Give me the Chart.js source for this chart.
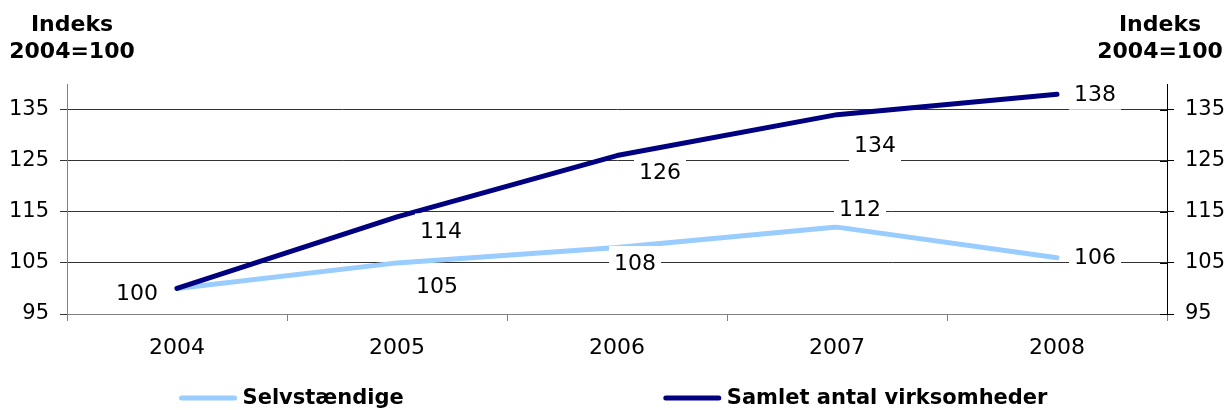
<!DOCTYPE html>
<html lang="da">
<head>
    <meta charset="UTF-8">
    <title>Indeks 2004=100</title>
    <script src="https://cdn.jsdelivr.net/npm/chart.js"></script>
    <style>
        html, body { margin: 0; padding: 0; background: #fff; }
        #wrap { position: relative; width: 1227px; height: 410px; }
    </style>
</head>
<body>
    <div id="wrap">
        <canvas id="chart"></canvas>
    </div>

    <script>
        // data
        const years = ['2004', '2005', '2006', '2007', '2008'];
        const selvstaendige = [100, 105, 108, 112, 106];
        const samlet = [100, 114, 126, 134, 138];
        const yTicks = [95, 105, 115, 125, 135];
        const axisTitle = ['Indeks', '2004=100'];

        const FONT = '"DejaVu Sans", Verdana, sans-serif';

        // where each value label sits relative to its point (null = hidden)
        const labelOffsets = [
            [null, [40, 22], [18, 15], [23, -19], [38, -1]],
            [[-40, 4], [44, 13], [43, 16], [38, 30], [38, -1]]
        ];

        // value labels with white boxes, drawn on top of the lines
        const valueLabels = {
            id: 'valueLabels',
            afterDatasetsDraw(chart) {
                const ctx = chart.ctx;
                ctx.save();
                ctx.font = '22px ' + FONT;
                ctx.textAlign = 'center';
                ctx.textBaseline = 'middle';
                chart.data.datasets.forEach((ds, di) => {
                    const meta = chart.getDatasetMeta(di);
                    meta.data.forEach((pt, i) => {
                        const off = labelOffsets[di][i];
                        if (!off) return;
                        const txt = String(ds.data[i]);
                        const cx = pt.x + off[0];
                        const cy = pt.y + off[1];
                        const w = ctx.measureText(txt).width + 10;
                        const h = 33;
                        ctx.fillStyle = '#fff';
                        ctx.fillRect(cx - w / 2, cy - h / 2, w, h);
                        ctx.fillStyle = '#000';
                        ctx.fillText(txt, cx, cy + 2);
                    });
                });
                ctx.restore();
            }
        };

        // axis titles top left and right
        const axisTitles = {
            id: 'axisTitles',
            afterDraw(chart) {
                const ctx = chart.ctx;
                ctx.save();
                ctx.font = 'bold 22px ' + FONT;
                ctx.fillStyle = '#000';
                ctx.textAlign = 'center';
                ctx.textBaseline = 'middle';
                [72, 1160].forEach(x => {
                    ctx.fillText(axisTitle[0], x, 25);
                    ctx.fillText(axisTitle[1], x, 52);
                });
                ctx.restore();
            }
        };

        // legend at the bottom, wide gap between the two entries
        const bottomLegend = {
            id: 'bottomLegend',
            afterDraw(chart) {
                const ctx = chart.ctx;
                const lineLen = 57, gap = 6, spacing = 260, y = 398;
                ctx.save();
                ctx.font = 'bold 21px ' + FONT;
                ctx.textBaseline = 'middle';
                ctx.textAlign = 'left';
                const items = chart.data.datasets.map(ds => ({
                    text: ds.label,
                    color: ds.borderColor,
                    w: ctx.measureText(ds.label).width
                }));
                let total = 0;
                items.forEach((it, i) => {
                    total += lineLen + gap + it.w + (i > 0 ? spacing : 0);
                });
                let x = (chart.width - total) / 2;
                items.forEach(it => {
                    ctx.strokeStyle = it.color;
                    ctx.lineWidth = 5;
                    ctx.lineCap = 'round';
                    ctx.beginPath();
                    ctx.moveTo(x + 2, y);
                    ctx.lineTo(x + lineLen - 2, y);
                    ctx.stroke();
                    ctx.fillStyle = '#000';
                    ctx.fillText(it.text, x + lineLen + gap, y + 1);
                    x += lineLen + gap + it.w + spacing;
                });
                ctx.restore();
            }
        };

        // right axis tick marks also reach a little into the plot
        const innerTicks = {
            id: 'innerTicks',
            afterDraw(chart) {
                const ax = chart.scales.y2;
                const ctx = chart.ctx;
                ctx.save();
                ctx.strokeStyle = '#000';
                ctx.lineWidth = 1;
                yTicks.forEach(v => {
                    const y = Math.round(ax.getPixelForValue(v)) + 0.5;
                    ctx.beginPath();
                    ctx.moveTo(ax.left - 7, y);
                    ctx.lineTo(ax.left, y);
                    ctx.stroke();
                });
                ctx.restore();
            }
        };

        const setTicks = axis => {
            axis.ticks = yTicks.map(v => ({ value: v }));
        };

        new Chart(document.getElementById('chart'), {
            type: 'line',
            data: {
                labels: years,
                datasets: [
                    {
                        label: 'Selvstændige',
                        data: selvstaendige,
                        borderColor: '#99CCFF',
                        borderWidth: 5,
                        pointRadius: 0,
                        tension: 0,
                        order: 1,
                        yAxisID: 'y'
                    },
                    {
                        label: 'Samlet antal virksomheder',
                        data: samlet,
                        borderColor: '#000080',
                        borderWidth: 5,
                        pointRadius: 0,
                        tension: 0,
                        order: 0,
                        yAxisID: 'y'
                    }
                ]
            },
            options: {
                responsive: true,
                maintainAspectRatio: false,
                animation: false,
                layout: { padding: { top: 84, left: 0, right: 0, bottom: 0 } },
                plugins: {
                    legend: { display: false },
                    tooltip: { enabled: false }
                },
                elements: { line: { borderCapStyle: 'round', borderJoinStyle: 'round' } },
                scales: {
                    x: {
                        offset: true,
                        grid: {
                            offset: true,
                            drawOnChartArea: false,
                            drawTicks: true,
                            tickLength: 7,
                            color: '#808080'
                        },
                        border: { color: '#808080' },
                        ticks: {
                            color: '#000',
                            font: { family: FONT, size: 22 },
                            padding: 14,
                            maxRotation: 0
                        },
                        afterFit(axis) { axis.height = 96; }
                    },
                    y: {
                        position: 'left',
                        min: 95,
                        max: 140,
                        afterBuildTicks: setTicks,
                        grid: { color: '#333', tickLength: 7 },
                        border: { color: '#808080' },
                        ticks: {
                            color: '#000',
                            font: { family: FONT, size: 21 },
                            padding: 11
                        },
                        afterFit(axis) { axis.width = 67; }
                    },
                    y2: {
                        position: 'right',
                        min: 95,
                        max: 140,
                        afterBuildTicks: setTicks,
                        grid: { drawOnChartArea: false, color: '#000', tickLength: 7 },
                        border: { color: '#000' },
                        ticks: {
                            color: '#000',
                            font: { family: FONT, size: 21 },
                            padding: 11
                        },
                        afterFit(axis) { axis.width = 60; }
                    }
                }
            },
            plugins: [valueLabels, axisTitles, bottomLegend, innerTicks]
        });
    </script>
</body>
</html>
